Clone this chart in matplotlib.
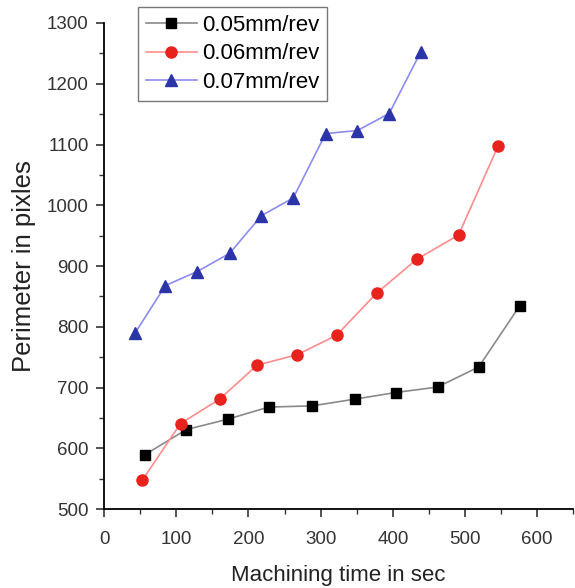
import matplotlib
matplotlib.use('Agg')
import matplotlib.pyplot as plt
from matplotlib.ticker import MultipleLocator

plt.rcParams['font.family'] = ['Liberation Sans', 'DejaVu Sans']

# 数据
t_005 = [57, 114, 171, 228, 288, 347, 404, 462, 519, 576]
p_005 = [590, 631, 648, 668, 670, 681, 692, 701, 734, 835]

t_006 = [53, 106, 160, 212, 267, 322, 378, 433, 491, 546]
p_006 = [548, 641, 681, 737, 754, 786, 856, 911, 951, 1098]

t_007 = [43, 85, 129, 174, 218, 262, 307, 351, 395, 439]
p_007 = [790, 868, 891, 921, 983, 1012, 1118, 1123, 1151, 1253]

labels = ['0.05mm/rev', '0.06mm/rev', '0.07mm/rev']

fig = plt.figure(figsize=(5.75, 5.88), dpi=100)
ax = fig.add_axes([0.181, 0.134, 0.816, 0.827])

ax.plot(t_005, p_005, color='#8a8a8a', lw=1.2, marker='s', ms=7.5,
        mfc='black', mec='black', label=labels[0])
ax.plot(t_006, p_006, color='#ff8c8c', lw=1.2, marker='o', ms=8,
        mfc='#e8231e', mec='#e8231e', label=labels[1])
ax.plot(t_007, p_007, color='#8c8cf0', lw=1.2, marker='^', ms=8.5,
        mfc='#2b35a8', mec='#2b35a8', label=labels[2])

ax.set_xlim(0, 650)
ax.set_ylim(500, 1300)
ax.xaxis.set_major_locator(MultipleLocator(100))
ax.xaxis.set_minor_locator(MultipleLocator(50))
ax.yaxis.set_major_locator(MultipleLocator(100))
ax.yaxis.set_minor_locator(MultipleLocator(50))

ax.spines['top'].set_visible(False)
ax.spines['right'].set_visible(False)
ax.spines['left'].set_linewidth(1.3)
ax.spines['bottom'].set_linewidth(1.3)
ax.tick_params(which='major', length=6, width=1.2, labelsize=13.5, colors='#333333')
ax.tick_params(which='minor', length=3.5, width=1.0, colors='#333333')
ax.tick_params(axis='x', which='major', pad=10)
ax.tick_params(axis='y', which='major', pad=5)

ax.set_xlabel('Machining time in sec', fontsize=16, color='#222222', labelpad=12)
ax.set_ylabel('Perimeter in pixles', fontsize=18.5, color='#222222', labelpad=8)

leg = ax.legend(loc='upper left', bbox_to_anchor=(0.072, 1.033), fontsize=16,
                frameon=True, fancybox=False, edgecolor='#555555',
                handlelength=2.3, borderpad=0.35, labelspacing=0.35,
                handletextpad=0.25, borderaxespad=0)
leg.get_frame().set_linewidth(1.0)

plt.savefig('out.png', dpi=100)
plt.close()
